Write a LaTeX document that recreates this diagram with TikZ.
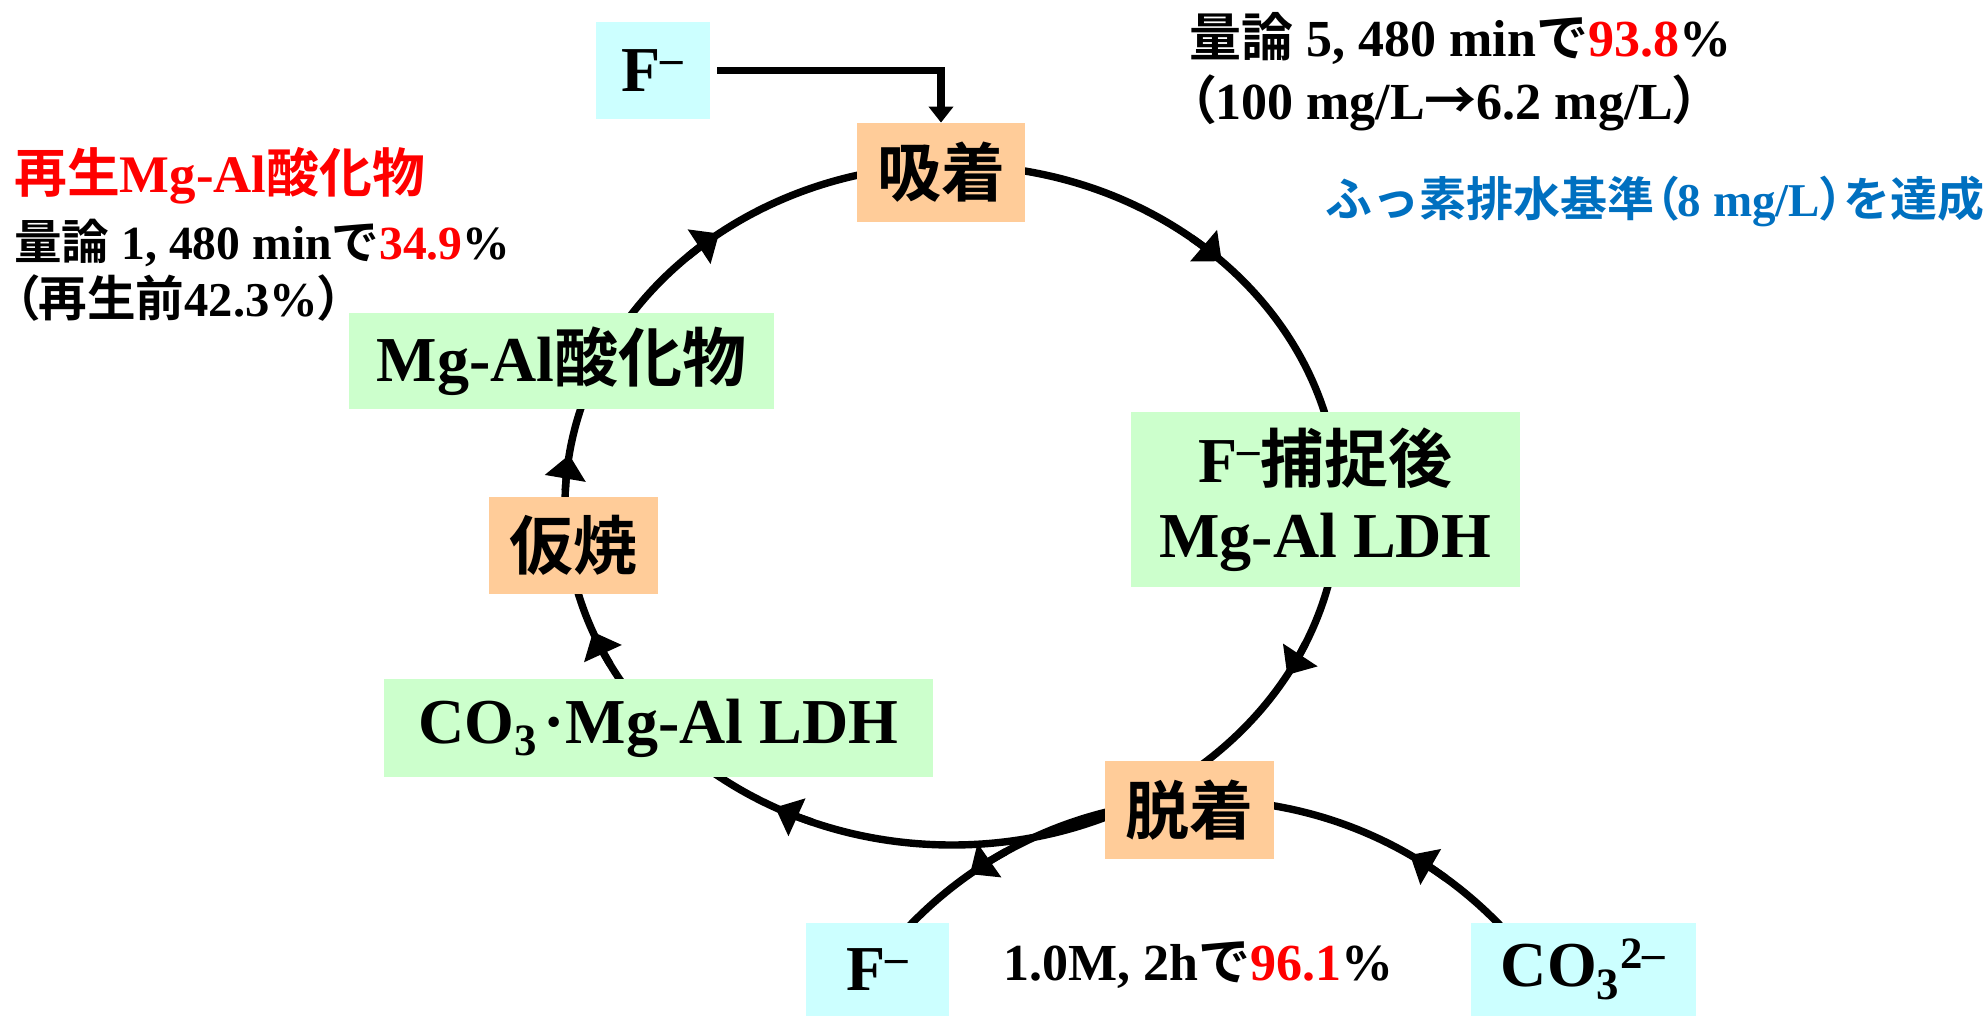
\documentclass[tikz,border=0pt]{standalone}
\usepackage{fontspec}
\setmainfont{Liberation Serif}
\newfontfamily\jpfont{Noto Sans CJK JP}[BoldFont={* Bold}]
\newfontfamily\jpparen{Noto Sans CJK JP}[BoldFont={* Bold},RawFeature=+palt]
\usetikzlibrary{arrows.meta}
\pgfdeclarelayer{bg}
\pgfsetlayers{bg,main}
\newcommand\jtext[1]{{\jpfont #1}}
\newcommand\lpar{{\jpparen （}}
\newcommand\rpar{{\jpparen ）}}
\definecolor{ofill}{HTML}{FFCC99}
\definecolor{gfill}{HTML}{CCFFCC}
\definecolor{cfill}{HTML}{CCFFFF}
\definecolor{bluetxt}{HTML}{0070C0}
\begin{document}
\begin{tikzpicture}[x=0.5pt,y=-0.5pt,
  lbl/.style={inner sep=0pt, font=\bfseries\fontsize{32}{37.5}\selectfont, align=center},
  obx/.style={lbl, fill=ofill},
  gbx/.style={lbl, fill=gfill},
  cbx/.style={lbl, fill=cfill},
  note/.style={inner sep=0pt, anchor=base west},
  cyc/.style={line width=3.7pt},
  cyctip/.style={cyc, -{Triangle[length=12pt,width=20pt]}},
  ftip/.style={line width=3.6pt, line join=miter, -{Triangle[length=8pt,width=12pt]}}]
\useasboundingbox (0,0) rectangle (1988,1016);

% boxes
\node[obx, minimum width=84pt, minimum height=49.5pt] (kyu) at (941,172.5) {\jtext{吸着}};
\node[cbx, minimum width=57pt, minimum height=48.5pt] (ftop) at (653,70.5) {F\textsuperscript{–}};
\node[gbx, minimum width=212.5pt, minimum height=48pt] (oxide) at (561.5,361) {Mg-Al\jtext{酸化物}};
\node[gbx, minimum width=194.5pt, minimum height=87.5pt] (after) at (1325.5,499.5) {F\textsuperscript{–}\jtext{捕捉後}\\Mg-Al LDH};
\node[obx, minimum width=84.5pt, minimum height=48.5pt] (calc) at (573.5,545.5) {\jtext{仮焼}};
\node[gbx, minimum width=274.5pt, minimum height=49pt] (co3ldh) at (658.5,728) {CO\textsubscript{3}\hspace{0.08em}·\hspace{0.02em}Mg-Al LDH};
\node[obx, minimum width=84.5pt, minimum height=49pt] (dat) at (1189.5,810) {\jtext{脱着}};
\node[cbx, minimum width=71.5pt, minimum height=46.5pt] (fbot) at (877.5,969.5) {F\textsuperscript{–}};
\node[cbx, minimum width=112.5pt, minimum height=46.5pt] (co3) at (1583.5,969.5) {CO\textsubscript{3}\textsuperscript{2–}};

% notes
\node[note, font=\bfseries\fontsize{26}{30}\selectfont] (n1) at (1189,57) {\jtext{量論} 5, 480 min\jtext{で}\textcolor{red}{93.8}\%};
\node[note, font=\bfseries\fontsize{26}{30}\selectfont] (n2) at (1189,120) {\lpar 100 mg/L\jtext{→}6.2 mg/L\rpar};
\node[note, font=\bfseries\fontsize{23.5}{28}\selectfont, text=bluetxt] (n3) at (1325,217) {\jtext{ふっ素排水基準}\lpar 8 mg/L\rpar\jtext{を達成}};
\node[note, font=\bfseries\fontsize{26.4}{30}\selectfont, text=red] (n4) at (14,193) {\jtext{再生}Mg-Al\jtext{酸化物}};
\node[note, font=\bfseries\fontsize{23.8}{28}\selectfont] (n5) at (14,260) {\jtext{量論} 1, 480 min\jtext{で}\textcolor{red}{34.9}\%};
\node[note, font=\bfseries\fontsize{24.3}{28}\selectfont] (n6) at (14,317) {\lpar\jtext{再生前}42.3\%\rpar};
\node[note, font=\bfseries\fontsize{26}{30}\selectfont] (n7) at (1003,980) {1.0M, 2h\jtext{で}\textcolor{red}{96.1}\%};

% F- feed arrow
\draw[ftip] ([xshift=3.5pt]ftop.east) -| (kyu.north);

% cycle
\begin{pgfonlayer}{bg}
\fill[white] (0,0) rectangle (1988,1016);
\coordinate (O) at (952,505);
\draw[cyc] (O) ellipse [x radius=387, y radius=340];
\foreach \u [evaluate=\u as \s using \u-6] in {-45.8,30,117.2,158.1,188.5,233}
  \draw[cyctip] (O) ++(\s:387 and 340) arc[start angle=\s, end angle=\u, x radius=387, y radius=340];
\coordinate (P) at (1205,1210);
\draw[cyc] (P) ++(-40:410) arc[start angle=-40, end angle=-140, radius=410];
\foreach \u [evaluate=\u as \s using \u+6] in {-60,-125}
  \draw[cyctip] (P) ++(\s:410) arc[start angle=\s, end angle=\u, radius=410];
\end{pgfonlayer}
\end{tikzpicture}
\end{document}
